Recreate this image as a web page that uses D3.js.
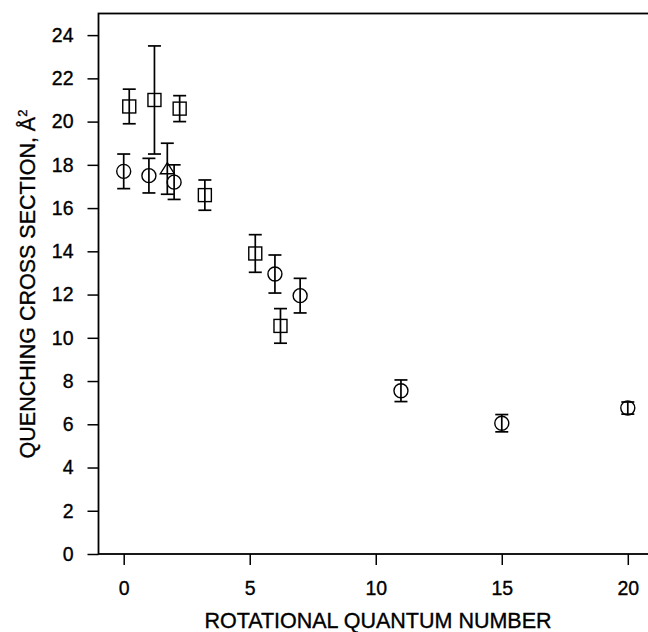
<!DOCTYPE html>
<html lang="en">
  <head>
    <meta charset="UTF-8" />
    <title>quenching-cross-section</title>
    <style>
      body {
        margin: 0;
        background: white;
        font-family: "Liberation Sans", Arial, Helvetica, sans-serif;
      }
      svg {
        display: block;
      }
      text {
        fill: black;
        stroke: black;
        stroke-width: 0.35;
      }
      .tick text {
        font-size: 19.5px;
      }
      .axis-title {
        font-size: 21.5px;
        text-anchor: middle;
      }
      .marker {
        fill: none;
        stroke: black;
        stroke-width: 1.4;
      }
      .err {
        stroke: black;
        stroke-width: 1.7;
      }
    </style>
  </head>
  <body>
    <script src="https://cdn.jsdelivr.net/npm/d3@7"></script>
    <script>
      // circles
      const circleJ = [0, 1, 2, 6, 7, 11, 15, 20];
      const circleSigma = [17.7, 17.5, 17.2, 12.95, 11.95, 7.55, 6.05, 6.75];
      const circleErr = [0.8, 0.8, 0.8, 0.88, 0.8, 0.5, 0.4, 0.28];

      // squares
      const squareJ = [0.22, 1.22, 2.22, 3.22, 5.22, 6.22];
      const squareSigma = [20.7, 21.0, 20.6, 16.6, 13.9, 10.55];
      const squareErr = [0.8, 2.5, 0.6, 0.7, 0.87, 0.8];

      // single triangle
      const triangleJ = [1.73];
      const triangleSigma = [17.82];
      const triangleErr = [1.18];

      const xTicks = [0, 5, 10, 15, 20];
      const yTicks = [0, 2, 4, 6, 8, 10, 12, 14, 16, 18, 20, 22, 24];

      const width = 648;
      const height = 632;
      const marginLeft = 98.5;
      const plotRight = 653;
      const marginTop = 13.5;
      const plotBottom = 554;
      const tickLen = 11;
      const capHalf = 6.5;

      const x = d3.scaleLinear().domain([-1, 21]).range([marginLeft, plotRight]);
      const y = d3.scaleLinear().domain([0, 25]).range([plotBottom, marginTop]);

      const svg = d3
        .select("body")
        .append("svg")
        .attr("width", width)
        .attr("height", height);

      // frame (right side falls outside the picture)
      svg
        .append("rect")
        .attr("x", marginLeft)
        .attr("y", marginTop)
        .attr("width", plotRight - marginLeft)
        .attr("height", plotBottom - marginTop)
        .attr("fill", "none")
        .attr("stroke", "black")
        .attr("stroke-width", 1.8);

      const xAxis = svg
        .append("g")
        .attr("transform", `translate(0,${plotBottom})`)
        .call(
          d3.axisBottom(x).tickValues(xTicks).tickSize(tickLen).tickPadding(16)
        );

      const yAxis = svg
        .append("g")
        .attr("transform", `translate(${marginLeft},0)`)
        .call(
          d3.axisLeft(y).tickValues(yTicks).tickSize(tickLen).tickPadding(14)
        );

      [xAxis, yAxis].forEach(a => {
        a.attr("font-family", null).attr("font-size", null);
        a.select(".domain").remove();
        a.selectAll(".tick line").attr("stroke", "black").attr("stroke-width", 1.5);
      });

      svg
        .append("text")
        .attr("class", "axis-title")
        .attr("x", 378)
        .attr("y", 628)
        .text("ROTATIONAL QUANTUM NUMBER");

      svg
        .append("text")
        .attr("class", "axis-title")
        .attr("transform", "translate(34.5,284) rotate(-90)")
        .text("QUENCHING CROSS SECTION, Å")
        .append("tspan")
        .attr("dy", -8)
        .style("font-size", "13px")
        .text("2");

      const toPoints = (js, vals, errs) =>
        js.map((j, i) => ({ j: j, v: vals[i], e: errs[i] }));

      const circles = toPoints(circleJ, circleSigma, circleErr);
      const squares = toPoints(squareJ, squareSigma, squareErr);
      const triangles = toPoints(triangleJ, triangleSigma, triangleErr);
      const all = circles.concat(squares, triangles);

      // error bars
      const bars = svg.append("g").attr("class", "err");
      bars
        .selectAll("line.stem")
        .data(all)
        .enter()
        .append("line")
        .attr("x1", d => x(d.j))
        .attr("x2", d => x(d.j))
        .attr("y1", d => y(d.v + d.e))
        .attr("y2", d => y(d.v - d.e));
      bars
        .selectAll("line.cap-top")
        .data(all)
        .enter()
        .append("line")
        .attr("x1", d => x(d.j) - capHalf)
        .attr("x2", d => x(d.j) + capHalf)
        .attr("y1", d => y(d.v + d.e))
        .attr("y2", d => y(d.v + d.e));
      bars
        .selectAll("line.cap-bottom")
        .data(all)
        .enter()
        .append("line")
        .attr("x1", d => x(d.j) - capHalf)
        .attr("x2", d => x(d.j) + capHalf)
        .attr("y1", d => y(d.v - d.e))
        .attr("y2", d => y(d.v - d.e));

      const marks = svg.append("g");
      marks
        .selectAll("circle")
        .data(circles)
        .enter()
        .append("circle")
        .attr("class", "marker")
        .attr("cx", d => x(d.j))
        .attr("cy", d => y(d.v))
        .attr("r", 7);

      marks
        .selectAll("rect")
        .data(squares)
        .enter()
        .append("rect")
        .attr("class", "marker")
        .attr("x", d => x(d.j) - 6.5)
        .attr("y", d => y(d.v) - 6.5)
        .attr("width", 13)
        .attr("height", 13);

      marks
        .selectAll("path")
        .data(triangles)
        .enter()
        .append("path")
        .attr("class", "marker")
        .attr("transform", d => `translate(${x(d.j)},${y(d.v)})`)
        .attr("d", "M0,-6 L7,5 L-7,5 Z");
    </script>
  </body>
</html>
